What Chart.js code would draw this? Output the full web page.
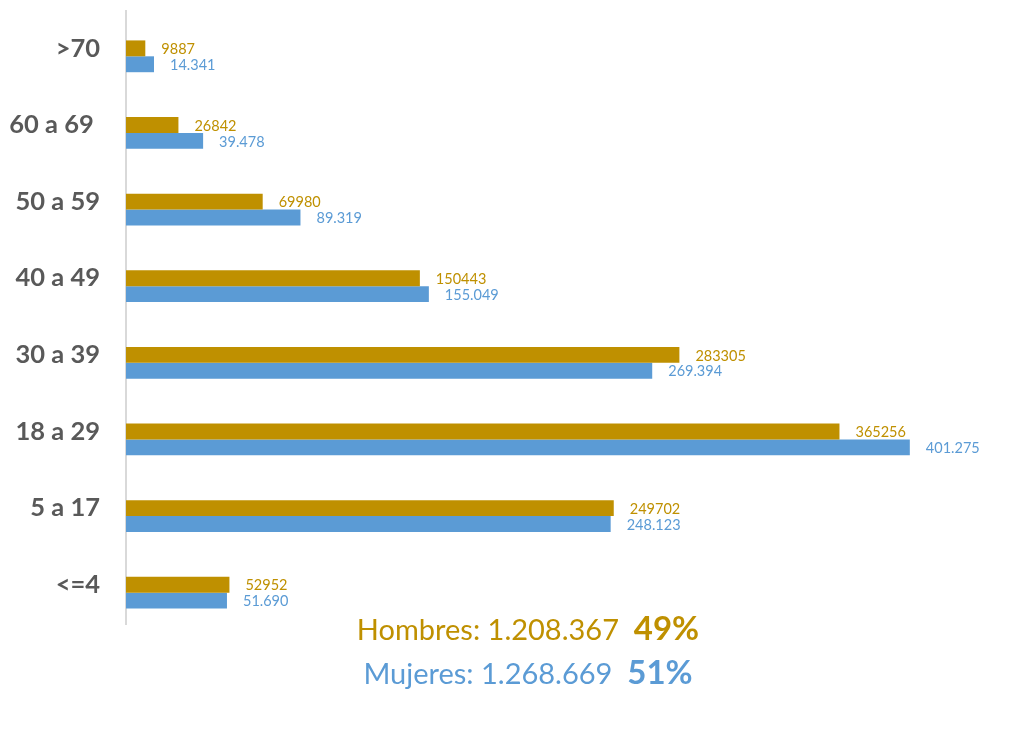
<!DOCTYPE html>
<html>
<head>
<meta charset="utf-8">
<script src="https://cdn.jsdelivr.net/npm/chart.js@4/dist/chart.umd.min.js"></script>
<style>
  body { margin: 0; background: #fff; }
  #wrap { position: relative; width: 1027px; height: 747px; }
  .total { position: absolute; left: 0; width: 1056px; text-align: center; font-family: Lato, sans-serif; font-size: 29px; white-space: pre; }
  .total b { font-size: 33px; }
  #tH { top: 607px; color: #BF9000; }
  #tM { top: 651px; color: #5B9BD5; }
</style>
</head>
<body>
<div id="wrap">
  <canvas id="edadChart" width="1027" height="747"></canvas>
  <div class="total" id="tH"></div>
  <div class="total" id="tM"></div>
</div>
<script>
const grupos = ['>70', '60 a 69 ', '50 a 59', '40 a 49', '30 a 39', '18 a 29', '5 a 17', '<=4'];
const hombres = [9887, 26842, 69980, 150443, 283305, 365256, 249702, 52952];
const mujeres = [14341, 39478, 89319, 155049, 269394, 401275, 248123, 51690];

const ORO = '#BF9000';
const AZUL = '#5B9BD5';

function puntos(n) {
    return String(n).replace(/\B(?=(\d{3})+(?!\d))/g, '.');
}

const totalH = hombres.reduce((a, b) => a + b, 0);
const totalM = mujeres.reduce((a, b) => a + b, 0);
const pctH = Math.round(totalH / (totalH + totalM) * 100);
const pctM = Math.round(totalM / (totalH + totalM) * 100);
document.getElementById('tH').innerHTML = 'Hombres: ' + puntos(totalH) + '  <b>' + pctH + '%</b>';
document.getElementById('tM').innerHTML = 'Mujeres: ' + puntos(totalM) + '  <b>' + pctM + '%</b>';

// valores al final de cada barra
const etiquetas = {
    id: 'etiquetas',
    afterDatasetsDraw(chart) {
        const ctx = chart.ctx;
        ctx.save();
        ctx.font = '14.5px Lato';
        ctx.textBaseline = 'middle';
        ctx.textAlign = 'left';
        chart.data.datasets.forEach((ds, i) => {
            ctx.fillStyle = ds.backgroundColor;
            chart.getDatasetMeta(i).data.forEach((bar, j) => {
                const txt = i === 0 ? String(ds.data[j]) : puntos(ds.data[j]);
                ctx.fillText(txt, bar.x + 16, bar.y + 1);
            });
        });
        ctx.restore();
    }
};

// linea vertical del eje
const eje = {
    id: 'eje',
    beforeDatasetsDraw(chart) {
        const a = chart.chartArea;
        const ctx = chart.ctx;
        ctx.save();
        ctx.strokeStyle = '#D9D9D9';
        ctx.lineWidth = 2;
        ctx.beginPath();
        ctx.moveTo(a.left, a.top - 8);
        ctx.lineTo(a.left, a.bottom - 6);
        ctx.stroke();
        ctx.restore();
    }
};

const ctx = document.getElementById('edadChart').getContext('2d');
new Chart(ctx, {
    type: 'bar',
    data: {
        labels: grupos,
        datasets: [
            { label: 'Hombres', data: hombres, backgroundColor: ORO },
            { label: 'Mujeres', data: mujeres, backgroundColor: AZUL }
        ]
    },
    options: {
        indexAxis: 'y',
        responsive: false,
        animation: false,
        categoryPercentage: 0.415,
        barPercentage: 1,
        layout: { padding: { top: 18, bottom: 116, left: 0, right: 22 } },
        plugins: { legend: { display: false }, tooltip: { enabled: false } },
        scales: {
            x: { display: false, min: 0, max: 450000 },
            y: {
                grid: { display: false, drawTicks: false },
                border: { display: false },
                afterFit(scale) {
                    scale.width = 126;
                    scale.paddingTop = 0;
                    scale.paddingBottom = 0;
                },
                ticks: {
                    padding: 26,
                    labelOffset: -8,
                    color: '#595959',
                    font: { family: 'Lato', size: 25.5, weight: 'bold' }
                }
            }
        }
    },
    plugins: [etiquetas, eje]
});
</script>
</body>
</html>
